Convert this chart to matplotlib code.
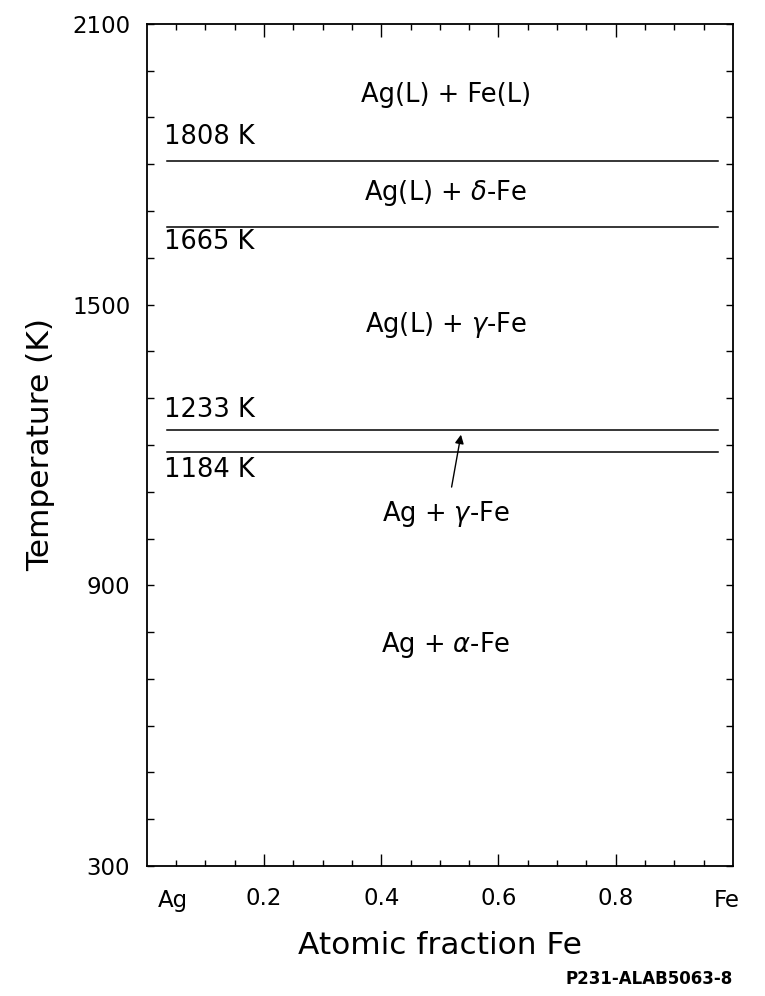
import matplotlib
matplotlib.use("Agg")
import matplotlib.pyplot as plt
import matplotlib.transforms as mtransforms

plt.rcParams['font.family'] = ['DejaVu Sans']
plt.rcParams['mathtext.fontset'] = 'dejavusans'

# invariant temperatures (K)
temps = [1808, 1665, 1233, 1184]
temp_labels = ['1808 K', '1665 K', '1233 K', '1184 K']
temp_label_y = [1858, 1634, 1275, 1147]

# phase field labels
phases = ['Ag(L) + Fe(L)', r'Ag(L) + $\delta$-Fe', r'Ag(L) + $\gamma$-Fe',
          r'Ag + $\gamma$-Fe', r'Ag + $\alpha$-Fe']
phase_x = [0.51, 0.51, 0.51, 0.51, 0.51]
phase_y = [1948, 1739, 1457, 1053, 773]

# arrow pointing at the 1233 K line
arrow_tail = (0.52, 1110)
arrow_head = (0.536, 1222)

x_ticks = [0.2, 0.4, 0.6, 0.8]
x_tick_labels = ['0.2', '0.4', '0.6', '0.8']
y_ticks = [300, 900, 1500, 2100]

sizee = 16.5
size_in = 18.5

fig = plt.figure(figsize=(7.65, 9.96), dpi=100)
ax = fig.add_axes([0.192, 0.1305, 0.766, 0.8455])

for t in temps:
    ax.plot([0.035, 0.975], [t, t], color='black', lw=1.1)

for lab, ty in zip(temp_labels, temp_label_y):
    ax.text(0.03, ty, lab, fontsize=size_in, ha='left', va='center')

for lab, px, py in zip(phases, phase_x, phase_y):
    ax.text(px, py, lab, fontsize=size_in, ha='center', va='center')

ax.annotate('', xy=arrow_head, xytext=arrow_tail,
            arrowprops=dict(arrowstyle='-|>', color='black', lw=1.0,
                            mutation_scale=13, shrinkA=0, shrinkB=0))

ax.set_xlim(0, 1)
ax.set_ylim(300, 2100)
ax.set_xticks(x_ticks)
ax.set_xticklabels(x_tick_labels)
ax.set_xticks([i * 0.05 for i in range(1, 20)], minor=True)
ax.set_yticks(y_ticks)
ax.set_yticks(list(range(300, 2101, 100)), minor=True)

ax.tick_params(axis='both', which='both', direction='in', top=True, right=True,
               labelsize=sizee, width=1.0)
ax.tick_params(axis='x', which='major', length=9, pad=15)
ax.tick_params(axis='x', which='minor', length=4.5)
ax.tick_params(axis='y', which='both', length=5, pad=12)

# end labels for the pure components
trans = mtransforms.blended_transform_factory(ax.transData, ax.transAxes)
ax.text(0.045, -0.027, 'Ag', transform=trans, fontsize=sizee, ha='center', va='top')
ax.text(0.99, -0.027, 'Fe', transform=trans, fontsize=sizee, ha='center', va='top')

for sp in ax.spines.values():
    sp.set_linewidth(1.3)

ax.set_xlabel('Atomic fraction Fe', fontsize=22.5, labelpad=15)
ax.set_ylabel('Temperature (K)', fontsize=22.5, labelpad=12)

fig.text(0.958, 0.008, 'P231-ALAB5063-8', fontsize=12, fontweight='bold',
         ha='right', va='bottom')

fig.savefig('out.png', dpi=100)
